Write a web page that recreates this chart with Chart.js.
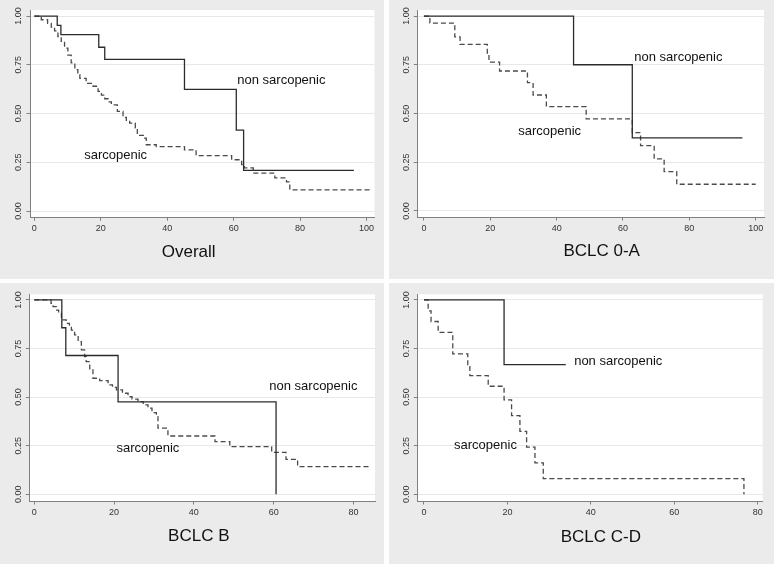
<!DOCTYPE html>
<html><head><meta charset="utf-8">
<script src="https://cdn.jsdelivr.net/npm/chart.js@4.4.0/dist/chart.umd.min.js"></script>
<style>
html,body{margin:0;padding:0;background:#fff;width:774px;height:564px;overflow:hidden}
.panel{position:absolute;background:#ebebeb}
canvas{display:block}
</style></head><body>
<div class="panel" style="left:0;top:0;width:384px;height:279px"><canvas id="c0" width="384" height="279"></canvas></div>
<div class="panel" style="left:389px;top:0;width:385px;height:279px"><canvas id="c1" width="385" height="279"></canvas></div>
<div class="panel" style="left:0;top:283px;width:384px;height:281px"><canvas id="c2" width="384" height="281"></canvas></div>
<div class="panel" style="left:389px;top:283px;width:385px;height:281px"><canvas id="c3" width="385" height="281"></canvas></div>
<script>
// ---- data ----
const panelTitles = ["Overall", "BCLC 0-A", "BCLC B", "BCLC C-D"];
const seriesNames = ["non sarcopenic", "sarcopenic"];
const yTicks = [0, 0.25, 0.5, 0.75, 1];
const xTicksWide = [0, 20, 40, 60, 80, 100];
const xTicksNarrow = [0, 20, 40, 60, 80];

const overallNonSarcTime = [0, 6.9, 8.0, 19.4, 21.2, 45.2, 60.8, 63.0, 96.2];
const overallNonSarcSurv = [1, 0.952, 0.905, 0.84, 0.778, 0.624, 0.415, 0.209, 0.209];
const overallSarcTime = [0, 2.1, 4.0, 5.1, 6.1, 7.1, 8.1, 9.1, 10.1, 11.1, 12.2, 13.1, 13.7, 15.6, 17.7, 19.2, 20.2, 21.2, 22.2, 23.2, 25.0, 26.7, 27.7, 28.7, 30.4, 31.0, 33.2, 33.7, 36.7, 45.2, 48.7, 59.4, 62.4, 63.2, 65.9, 72.4, 75.9, 76.9, 101];
const overallSarcSurv = [1, 0.981, 0.962, 0.943, 0.924, 0.895, 0.870, 0.836, 0.80, 0.76, 0.725, 0.70, 0.68, 0.655, 0.64, 0.614, 0.595, 0.576, 0.56, 0.545, 0.511, 0.48, 0.465, 0.451, 0.426, 0.388, 0.374, 0.34, 0.33, 0.314, 0.284, 0.263, 0.238, 0.221, 0.195, 0.170, 0.150, 0.109, 0.109];

const bclcANonSarcTime = [0, 45.1, 62.8, 96.0];
const bclcANonSarcSurv = [1, 0.75, 0.375, 0.375];
const bclcASarcTime = [0, 1.8, 9.3, 10.9, 19.1, 19.6, 22.8, 31.2, 32.9, 36.9, 48.9, 62.8, 65.3, 69.4, 72.4, 76.2, 100];
const bclcASarcSurv = [1, 0.964, 0.893, 0.855, 0.809, 0.764, 0.718, 0.658, 0.595, 0.535, 0.472, 0.402, 0.335, 0.267, 0.202, 0.137, 0.137];

const bclcBNonSarcTime = [0, 6.9, 7.9, 21.0, 60.6];
const bclcBNonSarcSurv = [1, 0.857, 0.714, 0.476, 0];
const bclcBSarcTime = [0, 4.2, 4.7, 5.6, 6.1, 6.8, 8.0, 8.8, 9.3, 10.1, 11.0, 11.8, 12.6, 13.0, 13.9, 14.7, 16.4, 18.5, 19.6, 20.6, 22.1, 23.5, 24.5, 26.0, 27.3, 28.5, 29.5, 30.6, 31.0, 33.5, 45.3, 49.0, 59.5, 63.1, 66.0, 83.9];
const bclcBSarcSurv = [1, 0.983, 0.966, 0.948, 0.931, 0.897, 0.879, 0.862, 0.845, 0.82, 0.785, 0.743, 0.708, 0.683, 0.64, 0.597, 0.585, 0.563, 0.55, 0.537, 0.52, 0.502, 0.49, 0.477, 0.46, 0.443, 0.42, 0.40, 0.34, 0.30, 0.271, 0.245, 0.216, 0.18, 0.142, 0.142];

const bclcCDNonSarcTime = [0, 19.2, 34.0];
const bclcCDNonSarcSurv = [1, 0.667, 0.667];
const bclcCDSarcTime = [0, 1.0, 1.7, 3.4, 6.9, 10.5, 11.0, 15.4, 19.2, 21.0, 23.0, 24.6, 26.6, 28.6, 76.7, 76.7];
const bclcCDSarcSurv = [1, 0.944, 0.889, 0.833, 0.722, 0.667, 0.611, 0.556, 0.486, 0.405, 0.324, 0.243, 0.162, 0.081, 0.081, 0];

// ---- layout / style (not data) ----
const FONT = "'Liberation Sans', Arial, Helvetica, sans-serif";
Chart.defaults.font.family = FONT;
const panels = [
  {id:'c0', title:panelTitles[0], nsT:overallNonSarcTime, nsS:overallNonSarcSurv, sT:overallSarcTime, sS:overallSarcSurv,
   xTicks:xTicksWide, xMin:-1.3, xMax:102.4, yMin:-0.032, yMax:1.031, plot:{l:30, t:10, r:374.5, b:217.3},
   titlePos:[188.7, 252], nsLab:[61.1, 0.672], sLab:[15.0, 0.287]},
  {id:'c1', title:panelTitles[1], nsT:bclcANonSarcTime, nsS:bclcANonSarcSurv, sT:bclcASarcTime, sS:bclcASarcSurv,
   xTicks:xTicksWide, xMin:-2.0, xMax:102.5, yMin:-0.031, yMax:1.031, plot:{l:28.3, t:10, r:375, b:217},
   titlePos:[212.7, 251.5], nsLab:[63.4, 0.786], sLab:[28.4, 0.407]},
  {id:'c2', title:panelTitles[2], nsT:bclcBNonSarcTime, nsS:bclcBNonSarcSurv, sT:bclcBSarcTime, sS:bclcBSarcSurv,
   xTicks:xTicksNarrow, xMin:-1.25, xMax:85.4, yMin:-0.0345, yMax:1.029, plot:{l:29.3, t:11.3, r:375, b:218},
   titlePos:[198.8, 253], nsLab:[58.9, 0.554], sLab:[20.6, 0.237]},
  {id:'c3', title:panelTitles[3], nsT:bclcCDNonSarcTime, nsS:bclcCDNonSarcSurv, sT:bclcCDSarcTime, sS:bclcCDSarcSurv,
   xTicks:xTicksNarrow, xMin:-1.6, xMax:81.2, yMin:-0.0345, yMax:1.029, plot:{l:28.3, t:11.3, r:373.7, b:218},
   titlePos:[211.8, 254.3], nsLab:[36.0, 0.683], sLab:[7.2, 0.25]}
];

const plotBg = {
  id:'plotBg',
  beforeDraw(chart){
    const a = chart.chartArea, ctx = chart.ctx;
    ctx.save(); ctx.fillStyle = '#ffffff';
    ctx.fillRect(a.left, a.top, a.right - a.left, a.bottom - a.top);
    ctx.restore();
  }
};
const textPlugin = {
  id:'kmText',
  afterDraw(chart){
    const p = chart.options.plugins.kmText;
    const ctx = chart.ctx, xs = chart.scales.x, ys = chart.scales.y;
    ctx.save();
    ctx.fillStyle = '#111';
    ctx.textBaseline = 'middle';
    ctx.font = '13px ' + FONT;
    ctx.textAlign = 'left';
    ctx.fillText(seriesNames[0], xs.getPixelForValue(p.nsLab[0]), ys.getPixelForValue(p.nsLab[1]));
    ctx.fillText(seriesNames[1], xs.getPixelForValue(p.sLab[0]), ys.getPixelForValue(p.sLab[1]));
    ctx.font = '17px ' + FONT;
    ctx.textAlign = 'center';
    ctx.fillText(p.title, p.titlePos[0], p.titlePos[1]);
    ctx.restore();
  }
};

function pts(ts, ss){ return ts.map((t, i) => ({x: t, y: ss[i]})); }

panels.forEach(p => {
  const cv = document.getElementById(p.id);
  const W = cv.width, H = cv.height;
  new Chart(cv, {
    type: 'line',
    data: {
      datasets: [
        {label: seriesNames[0], data: pts(p.nsT, p.nsS), stepped: 'before', borderColor: '#2b2b2b', borderWidth: 1.3, pointRadius: 0, fill: false},
        {label: seriesNames[1], data: pts(p.sT, p.sS), stepped: 'before', borderColor: '#4a4a4a', borderWidth: 1.3, borderDash: [5, 3], pointRadius: 0, fill: false}
      ]
    },
    options: {
      responsive: false, animation: false, devicePixelRatio: 1,
      layout: {padding: {left: 0, top: p.plot.t, right: W - p.plot.r, bottom: 0}},
      plugins: {legend: {display: false}, tooltip: {enabled: false}, title: {display: false},
        kmText: {title: p.title, titlePos: p.titlePos, nsLab: p.nsLab, sLab: p.sLab}},
      scales: {
        x: {
          type: 'linear', min: p.xMin, max: p.xMax,
          afterBuildTicks: s => { s.ticks = p.xTicks.map(v => ({value: v})); },
          afterFit: s => { s.height = H - p.plot.b; },
          grid: {drawOnChartArea: false, drawTicks: true, tickLength: 3.5, tickColor: '#808080', tickWidth: 1},
          border: {display: true, color: '#808080', width: 1},
          ticks: {font: {size: 9}, color: '#333', padding: 2.5, maxRotation: 0, minRotation: 0, callback: v => String(v)}
        },
        y: {
          type: 'linear', min: p.yMin, max: p.yMax,
          afterBuildTicks: s => { s.ticks = yTicks.map(v => ({value: v})); },
          afterFit: s => { s.width = p.plot.l; },
          grid: {drawOnChartArea: true, color: '#e8e8e8', lineWidth: 1, drawTicks: true, tickLength: 3.5, tickColor: '#808080'},
          border: {display: true, color: '#808080', width: 1},
          ticks: {font: {size: 9}, color: '#333', padding: -1, minRotation: 90, maxRotation: 90, crossAlign: 'center',
                  callback: v => Number(v).toFixed(2)}
        }
      }
    },
    plugins: [plotBg, textPlugin]
  });
});
</script>
</body></html>
